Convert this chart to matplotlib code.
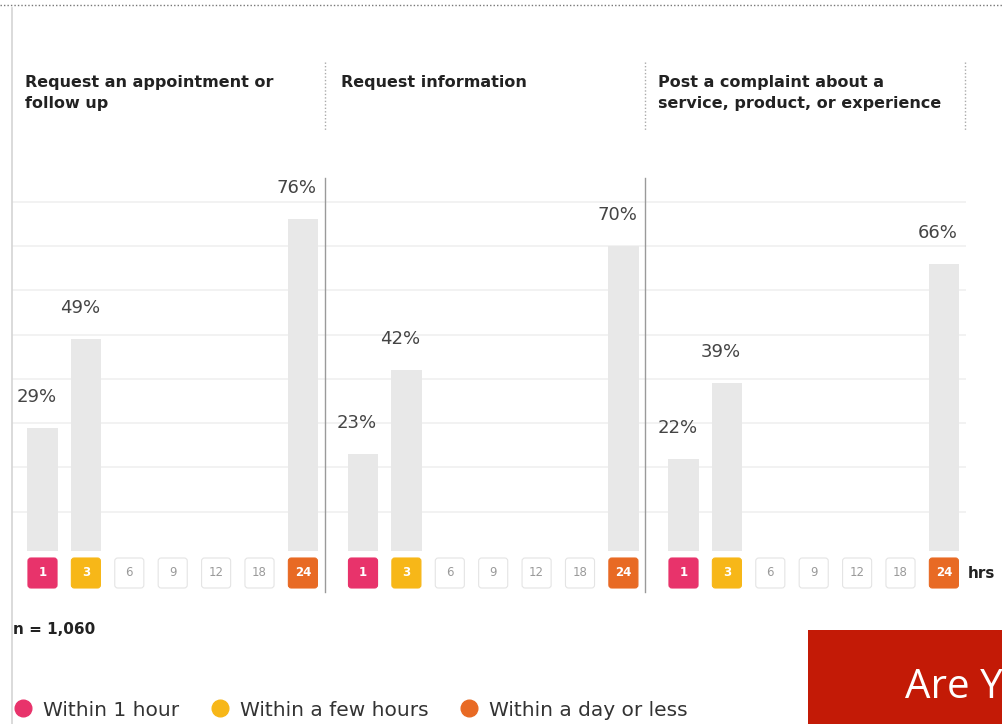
import matplotlib
matplotlib.use("Agg")
import matplotlib.pyplot as plt
from matplotlib.patches import FancyBboxPatch, Rectangle
from matplotlib.lines import Line2D

# ---------------- data ----------------
panel_titles = [
    "Request an appointment or\nfollow up",
    "Request information",
    "Post a complaint about a\nservice, product, or experience",
]
hour_labels = ["1", "3", "6", "9", "12", "18", "24"]
bar_slots = [0, 1, 6]                 # slots holding bars: 1 hr, 3 hrs, 24 hrs
values_appointment = [29, 49, 76]
values_information = [23, 42, 70]
values_complaint = [22, 39, 66]
panel_values = [values_appointment, values_information, values_complaint]
legend_labels = ["Within 1 hour", "Within a few hours", "Within a day or less"]
sample_note = "n = 1,060"
unit_label = "hrs"
banner_text = "Are Y"

# ---------------- style ----------------
W, H = 1002, 724
PINK, YELLOW, ORANGE = "#E8336B", "#F7B718", "#E86A24"
BAR = "#E8E8E8"
slot_colors = {0: PINK, 1: YELLOW, 6: ORANGE}

fig = plt.figure(figsize=(W / 100, H / 100), dpi=100)
fig.patch.set_facecolor("white")


def fx(x):
    return x / W


def fy(y):
    return 1 - y / H


def px_axes(l, t, r, b):
    return fig.add_axes([fx(l), fy(b), (r - l) / W, (b - t) / H])


SPACING = 43.4          # px per slot
ZERO_PX = 556           # pixel row of 0 %
PX_PER_PCT = 4.43
TOP_PX, BOT_PX = 178, 551
panel_bounds = [(12, 325), (325, 645), (645, 966)]
title_x = [25, 341, 658]

for i, (L, R) in enumerate(panel_bounds):
    c0 = 42.5 + 320.5 * i
    xlim = ((L - c0) / SPACING, (R - c0) / SPACING)

    ax = px_axes(L, TOP_PX, R, BOT_PX)
    ax.set_xlim(*xlim)
    ax.set_ylim((ZERO_PX - BOT_PX) / PX_PER_PCT, (ZERO_PX - TOP_PX) / PX_PER_PCT)
    ax.set_yticks(range(10, 90, 10))
    ax.set_xticks([])
    ax.tick_params(left=False, labelleft=False)
    ax.grid(axis="y", color="#F0F0F0", linewidth=1.2)
    ax.set_axisbelow(True)
    for s in ax.spines.values():
        s.set_visible(False)

    vals = panel_values[i]
    ax.bar(bar_slots, vals, width=0.7, color=BAR, zorder=2)
    for sx, v in zip(bar_slots, vals):
        ax.annotate(f"{v}%", (sx, v), xytext=(-6, 31), textcoords="offset pixels",
                    ha="center", va="center", fontsize=13, color="#444444",
                    family="DejaVu Sans")

    # tick strip
    sax = px_axes(L, 556, R, 590)
    sax.set_xlim(*xlim)
    sax.set_ylim(0, 34 / SPACING)
    sax.axis("off")
    for k, lab in enumerate(hour_labels):
        colored = k in slot_colors
        fc = slot_colors.get(k, "white")
        ec = fc if colored else "#E4E4E4"
        box = FancyBboxPatch((k - 0.335, 2 / SPACING), 0.67, 30 / SPACING,
                             boxstyle=f"round,pad=0,rounding_size={3 / SPACING}",
                             fc=fc, ec=ec, lw=0.8)
        sax.add_patch(box)
        sax.text(k, 17 / SPACING, lab, ha="center", va="center", fontsize=8.5,
                 color="white" if colored else "#9A9A9A",
                 fontweight="bold" if colored else "normal")

    # header
    fig.text(fx(title_x[i]), fy(75), panel_titles[i], ha="left", va="top",
             fontsize=11.5, fontweight="bold", color="#222222", linespacing=1.5,
             family="DejaVu Sans")

# panel divider lines
for x in (325, 645):
    fig.add_artist(Line2D([fx(x)] * 2, [fy(178), fy(592)], color="#9A9A9A", lw=1))
for x in (325, 645, 965):
    fig.add_artist(Line2D([fx(x)] * 2, [fy(62), fy(131)], color="#AAAAAA", lw=1,
                          linestyle=(0, (1, 1.5))))
# left border and top dotted rule
fig.add_artist(Line2D([fx(12)] * 2, [fy(8), fy(724)], color="#D4D4D4", lw=1.2))
fig.add_artist(Line2D([fx(0), fx(1002)], [fy(5)] * 2, color="#777777", lw=1,
                      linestyle=(0, (1, 1.5))))

fig.text(fx(968), fy(573), unit_label, ha="left", va="center", fontsize=11,
         fontweight="bold", color="#222222")
fig.text(fx(13), fy(630), sample_note, ha="left", va="center", fontsize=11,
         fontweight="bold", color="#222222")

# legend
handles = [Line2D([], [], marker="o", linestyle="none", markersize=12,
                  markerfacecolor=c, markeredgecolor=c) for c in (PINK, YELLOW, ORANGE)]
fig.legend(handles, legend_labels, loc="center left", bbox_to_anchor=(fx(14), fy(710)),
           ncol=3, frameon=False, fontsize=14.5, handlelength=0.9, handletextpad=0.55,
           columnspacing=1.55, borderaxespad=0, borderpad=0,
           labelcolor="#333333")

# red banner
fig.add_artist(Rectangle((fx(808), fy(724)), (1002 - 808) / W, (724 - 630) / H,
                         transform=fig.transFigure, fc="#C31A06", ec="none"))
fig.text(fx(905), fy(688), banner_text, ha="left", va="center", fontsize=29,
         color="white", family="Open Sans")

fig.savefig("out.png", dpi=100)
